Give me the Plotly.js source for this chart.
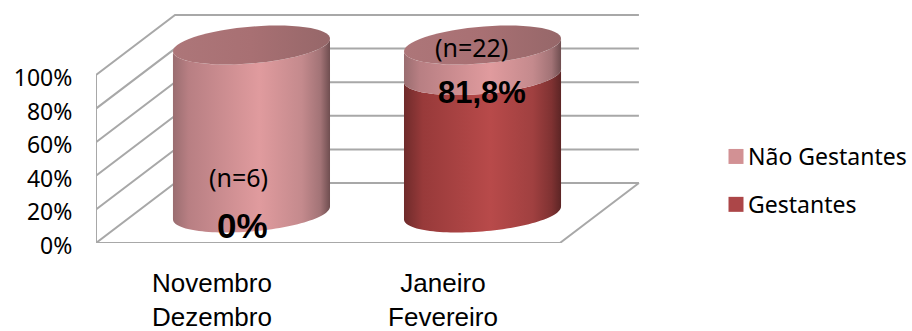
<!DOCTYPE html>
<html>
<head>
<meta charset="utf-8">
<script src="https://cdn.plot.ly/plotly-3.0.1.min.js"></script>
<style>html,body{margin:0;padding:0;background:#fff}#chart{width:912px;height:331px}</style>
</head>
<body>
<div id="chart"></div>
<script>
// Share of pregnant patients per two-month period
const categories = ['Novembro<br>Dezembro', 'Janeiro<br>Fevereiro'];
const gestantes = [0, 81.8];
const naoGestantes = [100, 18.2];
const sampleLabels = ['(n=6)', '(n=22)'];
const valueTicks = [0, 20, 40, 60, 80, 100];
const seriesNames = ['Não Gestantes', 'Gestantes'];

// Oblique 3D projection, expressed in axis units
const DEPTH_X = 79 / 231;   // horizontal shift of the back wall, in categories
const DEPTH_Y = 60 / 1.68;  // vertical shift of the back wall, in percent
const LEFT = -0.502, RIGHT = 1.506;
const project = (x, v, d) => [x + d * DEPTH_X, v + d * DEPTH_Y];

const GRID = '#a8a8a8';
const PINK_SIDE = [[0, '#9a6d70'], [0.1, '#b87f83'], [0.55, '#e09b9e'], [0.82, '#c48a8d'], [0.94, '#a27376'], [1, '#6f4e50']];
const RED_SIDE = [[0, '#6f2b2b'], [0.12, '#983a3a'], [0.55, '#b84a4a'], [0.82, '#a04040'], [0.94, '#7f3232'], [1, '#5c2525']];
const PINK_CAP = [[0, '#ad7679'], [0.5, '#a87073'], [1, '#966769']];

// Cylinder cross-section: a circle on the floor plane seen through the projection
const RADIUS_X = 74.2 / 231, RADIUS_D = 0.325;
function ringPoint(cat, v, t) {
  const d = 0.5 + RADIUS_D * Math.sin(t);
  return project(cat + RADIUS_X * Math.cos(t), v, d);
}
const EDGE = Math.atan2(RADIUS_D * DEPTH_X, RADIUS_X);

function arc(cat, v, from, to) {
  const pts = [];
  for (let i = 0; i <= 60; i++) pts.push(ringPoint(cat, v, from + (to - from) * i / 60));
  return pts;
}

function polygon(pts, scale) {
  return {
    x: pts.map(p => p[0]), y: pts.map(p => p[1]),
    mode: 'none', type: 'scatter', fill: 'toself',
    fillgradient: {type: 'horizontal', colorscale: scale},
    hoverinfo: 'skip', showlegend: false
  };
}

// Side wall of one stacked segment between two values
function segment(cat, v0, v1, scale) {
  const front = arc(cat, v0, EDGE + Math.PI, 2 * Math.PI + EDGE);
  const back = arc(cat, v1, 2 * Math.PI + EDGE, EDGE + Math.PI);
  return polygon(front.concat(back), scale);
}

function gridLine(pts) {
  return {
    x: pts.map(p => p[0]), y: pts.map(p => p[1]),
    mode: 'lines', type: 'scatter', line: {color: GRID, width: 2},
    hoverinfo: 'skip', showlegend: false
  };
}

const traces = [];

// Walls and floor
traces.push(gridLine([project(LEFT, 0, 0), project(LEFT, 100, 0)]));
valueTicks.forEach(v => {
  traces.push(gridLine([project(LEFT, v, 0), project(LEFT, v, 1), project(RIGHT, v, 1)]));
});
traces.push(gridLine([project(LEFT, 0, 0), project(RIGHT, 0, 0), project(RIGHT, 0, 1)]));

// Cylinders
categories.forEach((c, i) => {
  const top = gestantes[i] + naoGestantes[i];
  if (gestantes[i] > 0) traces.push(segment(i, 0, gestantes[i], RED_SIDE));
  traces.push(segment(i, gestantes[i], top, PINK_SIDE));
  traces.push(polygon(arc(i, top, 0, 2 * Math.PI), PINK_CAP));
});

// Legend entries
[['#d29194', 0], ['#ac4648', 1]].forEach(([color, i]) => {
  traces.push({
    x: [null], y: [null], type: 'scatter', mode: 'markers',
    name: seriesNames[i], legendgroup: seriesNames[i],
    marker: {symbol: 'square', size: 15, color: color},
    hoverinfo: 'skip'
  });
});

const fmt = v => String(v).replace('.', ',') + '%';
const annotations = [
  {x: 0, y: 0, xshift: 31, yshift: 18, text: fmt(gestantes[0]), size: 35, bold: true},
  {x: 1, y: 81.8, xshift: 39, yshift: 13, text: fmt(gestantes[1]), size: 31, bold: true},
  {x: 0, y: 0, xshift: 27, yshift: 66, text: sampleLabels[0], size: 25},
  {x: 1, y: 100, xshift: 28, yshift: 28, text: sampleLabels[1], size: 25}
].map(a => ({
  x: a.x, y: a.y, xref: 'x', yref: 'y', xshift: a.xshift, yshift: a.yshift,
  text: a.bold ? '<b>' + a.text + '</b>' : a.text, showarrow: false,
  font: {family: a.bold ? 'Liberation Sans' : 'Noto Sans', size: a.size, color: '#000'}
}));

const layout = {
  width: 912, height: 331,
  margin: {l: 96, r: 0, t: 0, b: 88, autoexpand: false},
  paper_bgcolor: '#fff', plot_bgcolor: '#fff',
  showlegend: true,
  legend: {
    x: (716 - 96) / 816, xanchor: 'left', y: (331 - 88 - 135) / 243, yanchor: 'top',
    font: {family: 'Noto Sans', size: 23, color: '#000'},
    tracegroupgap: 15, itemwidth: 30, traceorder: 'grouped',
    bgcolor: 'rgba(0,0,0,0)'
  },
  xaxis: {
    range: [LEFT, 3.03], showgrid: false, zeroline: false, showline: false,
    tickmode: 'array', tickvals: categories.map((c, i) => i), ticktext: categories,
    ticks: 'outside', ticklen: 17, tickcolor: 'rgba(0,0,0,0)',
    tickfont: {family: 'Liberation Sans', size: 26, color: '#000'}
  },
  yaxis: {
    range: [0, 243 / 1.68], showgrid: false, zeroline: false, showline: false,
    tickmode: 'array', tickvals: valueTicks, ticktext: valueTicks.map(v => v + '%'),
    ticks: 'outside', ticklen: 18, tickcolor: 'rgba(0,0,0,0)', ticklabelshift: 3,
    tickfont: {family: 'Noto Sans', size: 23, color: '#000'}
  },
  annotations: annotations
};

Plotly.newPlot('chart', traces, layout, {displayModeBar: false, staticPlot: true}).then(() => {
  // Pull the legend text closer to its swatch than the default column allows
  document.querySelectorAll('.legendtext').forEach(t => {
    t.setAttribute('x', parseFloat(t.getAttribute('x')) - 8);
  });
});
</script>
</body>
</html>
